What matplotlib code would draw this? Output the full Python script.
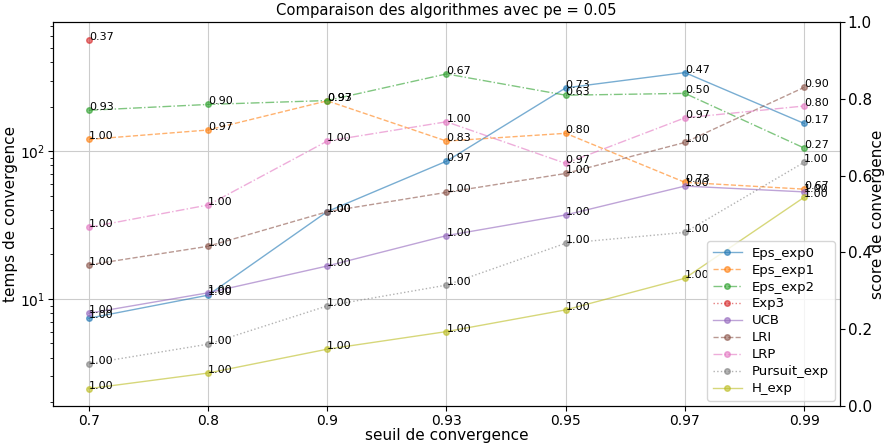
import matplotlib

matplotlib.use("Agg")
import matplotlib.pyplot as plt
import numpy as np


thresholds = ["0.7", "0.8", "0.9", "0.93", "0.95", "0.97", "0.99"]
algorithms = ["Eps_exp0", "Eps_exp1", "Eps_exp2", "Exp3", "UCB", "LRI", "LRP", "Pursuit_exp", "H_exp"]
linestyles = ["-", "--", "-.", ":"]

nan = np.nan

# mean convergence time per threshold
eps_exp0_time = [7.4, 10.6, 39, 85.5, 268, 340, 154]
eps_exp1_time = [120, 139, 219, 117, 132, 61.5, 55.3]
eps_exp2_time = [189, 207, 220, 333, 239, 246, 105]
exp3_time = [562, nan, nan, nan, nan, nan, nan]
ucb_time = [8.0, 11.0, 16.7, 26.8, 37, 58, 53]
lri_time = [17, 22.7, 38.9, 52.6, 70.6, 114.5, 270]
lrp_time = [30.5, 43.2, 117, 158, 82.6, 168, 202]
pursuit_time = [3.64, 4.94, 8.97, 12.4, 23.8, 28.2, 84]
h_exp_time = [2.47, 3.15, 4.57, 6.01, 8.43, 13.8, 48.7]

# convergence score written next to each point
eps_exp0_score = [1.00, 1.00, 1.00, 0.97, 0.73, 0.47, 0.17]
eps_exp1_score = [1.00, 0.97, 0.97, 0.83, 0.80, 0.73, 0.67]
eps_exp2_score = [0.93, 0.90, 0.93, 0.67, 0.63, 0.50, 0.27]
exp3_score = [0.37, nan, nan, nan, nan, nan, nan]
ucb_score = [1.00, 1.00, 1.00, 1.00, 1.00, 1.00, 1.00]
lri_score = [1.00, 1.00, 1.00, 1.00, 1.00, 1.00, 0.90]
lrp_score = [1.00, 1.00, 1.00, 1.00, 0.97, 0.97, 0.80]
pursuit_score = [1.00, 1.00, 1.00, 1.00, 1.00, 1.00, 1.00]
h_exp_score = [1.00, 1.00, 1.00, 1.00, 1.00, 1.00, 1.00]

times = [eps_exp0_time, eps_exp1_time, eps_exp2_time, exp3_time, ucb_time,
         lri_time, lrp_time, pursuit_time, h_exp_time]
scores = [eps_exp0_score, eps_exp1_score, eps_exp2_score, exp3_score, ucb_score,
          lri_score, lrp_score, pursuit_score, h_exp_score]


def main() -> None:
    fig = plt.figure(figsize=(8.85, 4.45), dpi=100)
    ax = fig.add_axes([0.060, 0.088, 0.889, 0.862])
    x = np.arange(len(thresholds))
    colors = plt.get_cmap("tab10").colors

    for i, (name, t, s) in enumerate(zip(algorithms, times, scores)):
        ax.plot(x, t, marker="o", markersize=4, linewidth=1, alpha=0.6,
                linestyle=linestyles[i % 4], color=colors[i], label=name)
        for xi, ti, si in zip(x, t, s):
            if np.isnan(ti):
                continue
            ax.text(xi, ti, f"{si:.2f}", fontsize=8)

    ax.set_yscale("log")
    ax.set_ylim(1.89, 745)
    ax.set_xticks(x, thresholds, fontsize=10)
    ax.tick_params(axis="both", labelsize=10, pad=2.5)
    ax.tick_params(axis="y", which="minor", length=2)
    ax.grid(True, color="#cccccc", linewidth=0.8)
    ax.set_xlabel("seuil de convergence", fontsize=11, labelpad=0)
    ax.set_ylabel("temps de convergence", fontsize=11, labelpad=1)
    ax.set_title("Comparaison des algorithmes avec pe = 0.05", fontsize=10.6, pad=5)
    ax.legend(loc="lower right", fontsize=9.5, labelspacing=0.3,
              borderaxespad=0.4, handlelength=2.2)

    ax2 = ax.twinx()
    ax2.set_ylim(0, 1)
    ax2.set_yticks(np.linspace(0, 1, 6))
    ax2.tick_params(axis="y", labelsize=11, pad=2)
    ax2.set_ylabel("score de convergence", fontsize=11, labelpad=-1)

    fig.savefig("out.png", dpi=100)
    plt.close(fig)


if __name__ == "__main__":
    main()
